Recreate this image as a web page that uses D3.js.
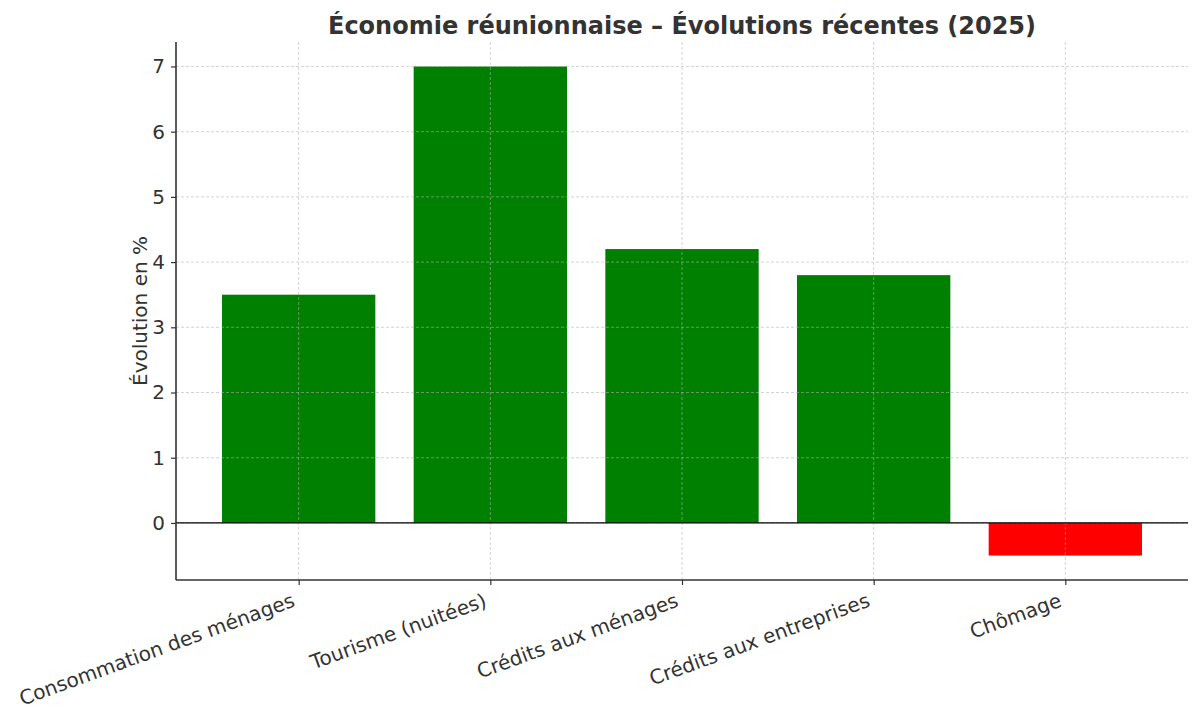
<!DOCTYPE html>
<html><head><meta charset="utf-8">
<script src="https://cdn.jsdelivr.net/npm/d3@7"></script>
<style>body{margin:0;background:#fff}svg{display:block}text{font-family:"DejaVu Sans",sans-serif}</style>
</head><body>
<svg id="c" width="1200" height="720"></svg>
<script>
const categories = ["Consommation des ménages","Tourisme (nuitées)","Crédits aux ménages","Crédits aux entreprises","Chômage"];
const values = [3.5, 7.0, 4.2, 3.8, -0.5];
const yTicks = [0,1,2,3,4,5,6,7];
const title = "Économie réunionnaise – Évolutions récentes (2025)";
const yLabel = "Évolution en %";

const svg = d3.select("#c");
const L = 176, R = 1188, T = 42, B = 580;
const n = categories.length;
const x = d3.scaleLinear().domain([-0.64, n - 1 + 0.64]).range([L, R]);
const y = d3.scaleLinear().domain([-0.875, 7.375]).range([B, T]);
const bw = x(0.8) - x(0);
const ink = "#333";

// bars
svg.append("g").selectAll("rect").data(values).join("rect")
  .attr("x", (d,i) => x(i) - bw/2)
  .attr("width", bw)
  .attr("y", d => y(Math.max(0,d)))
  .attr("height", d => Math.abs(y(d) - y(0)))
  .attr("fill", d => d >= 0 ? "#008000" : "#ff0000");

// grid
const g = svg.append("g").attr("stroke", "#b0b0b0").attr("stroke-opacity", 0.7).attr("stroke-dasharray", "3,2").attr("stroke-width", 0.8);
g.selectAll(".gy").data(yTicks).join("line")
  .attr("x1", L).attr("x2", R).attr("y1", d => y(d)).attr("y2", d => y(d));
g.selectAll(".gx").data(categories).join("line")
  .attr("x1", (d,i) => x(i)).attr("x2", (d,i) => x(i)).attr("y1", T).attr("y2", B);

// zero line
svg.append("line").attr("x1", L).attr("x2", R).attr("y1", y(0)).attr("y2", y(0)).attr("stroke", "#000").attr("stroke-width", 1.2);

// y axis
const ya = svg.append("g").attr("transform", `translate(${L},0)`)
  .call(d3.axisLeft(y).tickValues(yTicks).tickSize(5).tickPadding(6).tickFormat(d3.format("d")));
ya.select(".domain").attr("stroke", ink).attr("stroke-width", 1.6).attr("d", `M0,${T}V${B}`);
ya.selectAll(".tick line").attr("stroke", ink).attr("stroke-width", 1.2);
ya.selectAll(".tick text").attr("font-size", 20).attr("fill", ink).attr("font-family", "DejaVu Sans");

// x axis
const xa = svg.append("g").attr("transform", `translate(0,${B})`)
  .call(d3.axisBottom(x).tickValues(d3.range(n)).tickSize(5).tickFormat(i => categories[i]));
xa.select(".domain").attr("stroke", ink).attr("stroke-width", 1.6).attr("d", `M${L},0H${R}`);
xa.selectAll(".tick line").attr("stroke", ink).attr("stroke-width", 1.2);
xa.selectAll(".tick text")
  .attr("font-size", 20).attr("fill", ink).attr("font-family", "DejaVu Sans")
  .attr("text-anchor", "end").attr("dy", null).attr("y", 0).attr("x", 0)
  .attr("transform", "translate(-3,26) rotate(-20)");

// title
svg.append("text").attr("x", (L+R)/2).attr("y", 34).attr("text-anchor", "middle")
  .attr("font-size", 24).attr("font-weight", "bold").attr("fill", ink).text(title);

// y label
svg.append("text").attr("transform", `translate(147,${(T+B)/2}) rotate(-90)`)
  .attr("text-anchor", "middle").attr("font-size", 20).attr("fill", ink).text(yLabel);
</script>
</body></html>
